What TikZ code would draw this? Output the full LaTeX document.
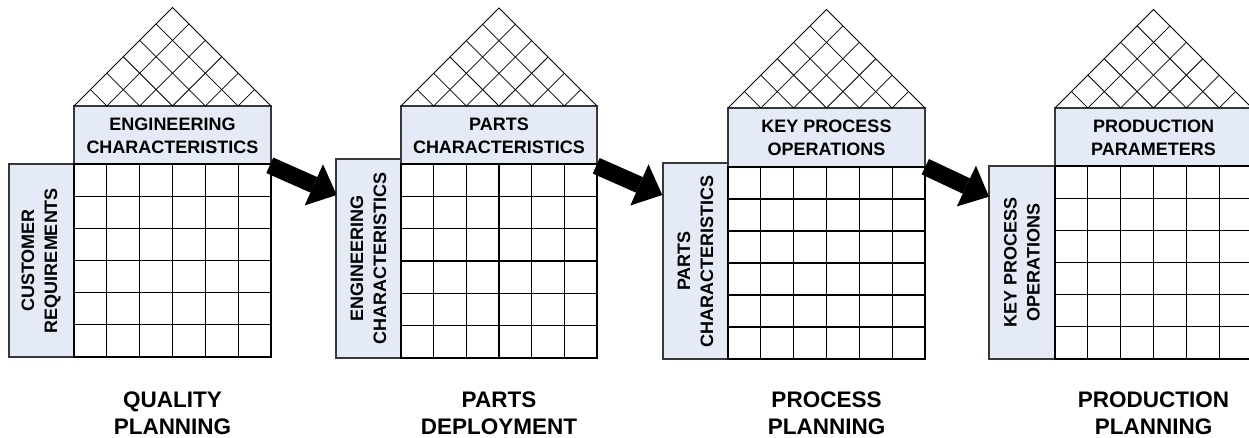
\documentclass[tikz,border=0pt]{standalone}
\usepackage{fontspec}
\setmainfont{Liberation Sans}
\usetikzlibrary{arrows.meta}
\definecolor{boxblue}{HTML}{E5EBF6}
\definecolor{edgegray}{HTML}{383838}
\newcommand\qfdframe[7]{%
  % #1 lx, #2 gx, #3 w, #4 header top, #5 grid top, #6 bottom, #7 side-box top
  \draw[boxline] (#2,#4) rectangle ({#2+#3},#5);
  \draw[boxline] (#1,#7) rectangle (#2,#6);
  \foreach \k in {1,...,5}{
    \draw[gridline] ({#2+\k*#3/6},#5) -- ({#2+\k*#3/6},#6);
    \draw[gridline] (#2,{#5+\k*(#6-#5)/6}) -- ({#2+#3},{#5+\k*(#6-#5)/6});
    \draw[roofline] ({#2+\k*#3/6},#4) -- ({#2+\k*#3/12},{#4-\k*#3/12});
    \draw[roofline] ({#2+\k*#3/6},#4) -- ({#2+(6+\k)*#3/12},{#4-(6-\k)*#3/12});
  }
  \draw[gridline] (#2,#5) rectangle ({#2+#3},#6);
  \draw[roofline] (#2,#4) -- ({#2+#3/2},{#4-#3/2}) -- ({#2+#3},#4);
}
\begin{document}
\begin{tikzpicture}[x=1pt,y=-1pt,
  boxline/.style={draw=edgegray, line width=1.3pt, fill=boxblue},
  gridline/.style={draw=black, line width=1.1pt},
  roofline/.style={draw=black, line width=0.8pt},
  hdr/.style={font=\bfseries\fontsize{18}{23}\selectfont, align=center, inner sep=0pt},
  side/.style={hdr, rotate=90},
  caption/.style={font=\bfseries\fontsize{22.5}{27}\selectfont, align=center, inner sep=0pt},
  flow/.style={line width=17pt, -{Triangle[length=25pt,width=45pt,line width=0pt]}}
]
\useasboundingbox (0,0) rectangle (1249,438);
\clip (0,0) rectangle (1249,438);
\fill[white] (0,0) rectangle (1249,438);

% houses
\qfdframe{9}{74}{197}{106}{164}{357}{164}
\qfdframe{336}{401}{196}{106}{164}{358}{159}
\qfdframe{663}{728}{197}{108}{167}{359}{163}
\qfdframe{989}{1055}{197}{108}{166}{359}{166}

% header texts
\node[hdr] (h1-head) at (172.5,136) {ENGINEERING\\CHARACTERISTICS};
\node[hdr] (h2-head) at (499,136) {PARTS\\CHARACTERISTICS};
\node[hdr] (h3-head) at (826.5,138) {KEY PROCESS\\OPERATIONS};
\node[hdr] (h4-head) at (1153.5,138) {PRODUCTION\\PARAMETERS};

% side texts
\node[side] (h1-side) at (41,260.5) {CUSTOMER\\REQUIREMENTS};
\node[side] (h2-side) at (368.5,258.5) {ENGINEERING\\CHARACTERISTICS};
\node[side] (h3-side) at (695.5,261) {PARTS\\CHARACTERISTICS};
\node[side] (h4-side) at (1022,262.5) {KEY PROCESS\\OPERATIONS};

% captions
\node[caption] (h1-cap) at (172.5,413.5) {QUALITY\\PLANNING};
\node[caption] (h2-cap) at (499,413.5) {PARTS\\DEPLOYMENT};
\node[caption] (h3-cap) at (826.5,413.5) {PROCESS\\PLANNING};
\node[caption] (h4-cap) at (1153.5,413.5) {PRODUCTION\\PLANNING};

% arrows
\coordinate (h1-out) at (269.8,165.3);
\coordinate (h2-in) at (336.7,195);
\coordinate (h2-out) at (596.2,165.8);
\coordinate (h3-in) at (662.3,195);
\coordinate (h3-out) at (925.3,166.7);
\coordinate (h4-in) at (989,196.7);
\draw[flow] (h1-out) -- (h2-in);
\draw[flow] (h2-out) -- (h3-in);
\draw[flow] (h3-out) -- (h4-in);
\end{tikzpicture}
\end{document}
